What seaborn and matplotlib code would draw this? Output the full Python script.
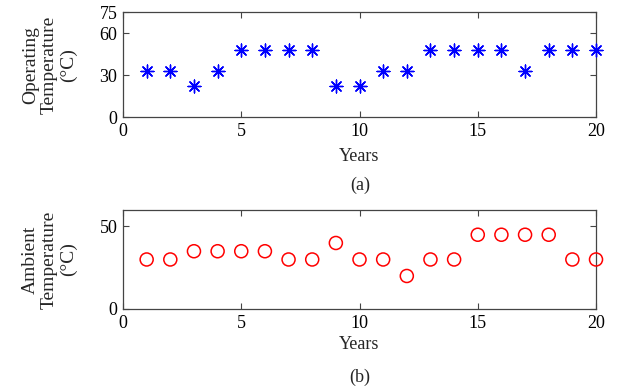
import matplotlib
matplotlib.use("Agg")
import matplotlib.pyplot as plt
import seaborn as sns
import pandas as pd

years = list(range(1, 21))
operating_temp = [33, 33, 22, 33, 48, 48, 48, 48, 22, 22, 33, 33, 48, 48, 48, 48, 33, 48, 48, 48]
ambient_temp = [30, 30, 35, 35, 35, 35, 30, 30, 40, 30, 30, 20, 30, 30, 45, 45, 45, 45, 30, 30]
x_ticks = [0, 5, 10, 15, 20]
top_yticks = [0, 30, 60, 75]
bot_yticks = [0, 50]

sns.set_theme(style="ticks")
plt.rcParams['font.family'] = ['Liberation Serif', 'DejaVu Serif']
plt.rcParams['font.size'] = 11

df = pd.DataFrame({"Years": years, "op": operating_temp, "amb": ambient_temp})

fig = plt.figure(figsize=(6.26, 3.89), dpi=100)
ax1 = fig.add_axes([0.1965, 0.699, 0.7556, 0.270])
ax2 = fig.add_axes([0.1965, 0.2057, 0.7556, 0.2545])

sns.scatterplot(data=df, x="Years", y="op", ax=ax1, marker=(8, 2, 0), s=85,
                color="#0000ff", edgecolor="#0000ff", linewidth=1.0, legend=False,
                clip_on=False, zorder=3)
sns.scatterplot(data=df, x="Years", y="amb", ax=ax2, marker="o", s=88,
                facecolor="none", edgecolor="#ff0000", linewidth=1.1, legend=False,
                clip_on=False, zorder=3)

for ax, yt, ylim, lp in [(ax1, top_yticks, (0, 75), 6), (ax2, bot_yticks, (0, 60), 3)]:
    ax.set_xlim(0, 20)
    ax.set_ylim(*ylim)
    ax.set_xticks(x_ticks)
    ax.set_yticks(yt)
    ax.tick_params(direction="in", top=True, right=True, length=4, width=0.8,
                   labelsize=13, colors="#444444", labelcolor="black", pad=4)
    for sp in ax.spines.values():
        sp.set_visible(True)
        sp.set_color("#444444")
        sp.set_linewidth(0.9)
    ax.set_xlabel("Years", fontsize=13, labelpad=lp)

ax1.set_ylabel("Operating\nTemperature\n(°C)", fontsize=14, linespacing=1.15, labelpad=16)
ax2.set_ylabel("Ambient\nTemperature\n(°C)", fontsize=14, linespacing=1.15, labelpad=16)

fig.text(0.575, 0.524, "(a)", ha="center", va="center", fontsize=13)
fig.text(0.575, 0.031, "(b)", ha="center", va="center", fontsize=13)

fig.savefig("out.png", dpi=100)
